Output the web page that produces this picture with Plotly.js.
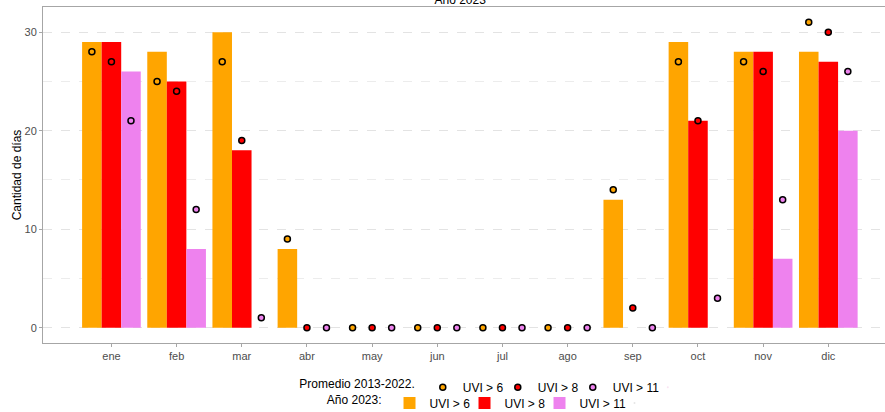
<!DOCTYPE html>
<html>
<head>
<meta charset="utf-8">
<script src="https://cdn.plot.ly/plotly-3.0.1.min.js"></script>
<style>html,body{margin:0;padding:0;background:#fff;}#chart{width:885px;height:412px;}</style>
</head>
<body>
<div id="chart"></div>
<script>
const months = ["ene","feb","mar","abr","may","jun","jul","ago","sep","oct","nov","dic"];
// Año 2023 (bars)
const bar_uvi6  = [29,28,30,8,0,0,0,0,13,29,28,28];
const bar_uvi8  = [29,25,18,0,0,0,0,0,0,21,28,27];
const bar_uvi11 = [26,8,0,0,0,0,0,0,0,0,7,20];
// Promedio 2013-2022 (points)
const avg_uvi6  = [28,25,27,9,0,0,0,0,14,27,27,31];
const avg_uvi8  = [27,24,19,0,0,0,0,0,2,21,26,30];
const avg_uvi11 = [21,12,1,0,0,0,0,0,0,3,13,26];

const colors = ["#FFA500","#FF0000","#EE82EE"];
const labels = ["UVI > 6","UVI > 8","UVI > 11"];
const barSeries = [bar_uvi6, bar_uvi8, bar_uvi11];
const avgSeries = [avg_uvi6, avg_uvi8, avg_uvi11];
const idx = months.map((m,i)=>i);
const dodge = [-0.3, 0, 0.3];

const traces = [];
barSeries.forEach((s,k)=>{
  traces.push({
    type:'bar', x:idx, y:s, name:labels[k], legend:'legend2',
    marker:{color:colors[k], line:{width:0}}, hoverinfo:'y'
  });
});
avgSeries.forEach((s,k)=>{
  traces.push({
    type:'scatter', mode:'markers', x:idx.map(i=>i+dodge[k]), y:s, name:labels[k], legend:'legend',
    marker:{color:colors[k], size:6, line:{color:'#000', width:1.5}}, cliponaxis:false
  });
});
// empty spacer entries so the last legend label is not clipped
['legend','legend2'].forEach(lg=>{
  traces.push({type:'scatter', mode:'markers', x:[null], y:[null], name:' ', legend:lg,
    marker:{opacity:0, size:1}, showlegend:true, hoverinfo:'skip'});
});

const layout = {
  width:885, height:412,
  margin:{l:43, r:0, t:7, b:69},
  paper_bgcolor:'#fff', plot_bgcolor:'#fff',
  font:{family:'Liberation Sans, Arial, sans-serif', color:'#000'},
  title:{text:'Año 2023', font:{size:12, color:'#000'}, x:0.52, xanchor:'center', y:1, yref:'container', yanchor:'middle'},
  barmode:'group', bargap:0.1, bargroupgap:0,
  xaxis:{
    range:[-1.05, 11.87], tickvals:idx, ticktext:months,
    showgrid:false, zeroline:false,
    showline:true, linecolor:'#a6a6a6', linewidth:1, mirror:true,
    ticks:'outside', ticklen:3, tickcolor:'#a6a6a6',
    tickfont:{size:11, color:'#4d4d4d'}
  },
  yaxis:{
    range:[-1.55, 32.55], tickvals:[0,10,20,30],
    showgrid:true, gridcolor:'#e3e3e3', griddash:'dash', gridwidth:1,
    minor:{tickvals:[5,15,25], showgrid:true, gridcolor:'#ececec', griddash:'dash', gridwidth:1},
    zeroline:false,
    showline:true, linecolor:'#a6a6a6', linewidth:1, mirror:true,
    ticks:'outside', ticklen:3, tickcolor:'#a6a6a6',
    tickfont:{size:11, color:'#4d4d4d'},
    automargin:false,
    title:{text:'Cantidad de días', font:{size:12, color:'#000'}, standoff:0}
  },
  legend:{
    orientation:'h', xref:'container', yref:'container', x:0.336, xanchor:'left', y:0.06, yanchor:'middle',
    title:{text:'Promedio 2013-2022.', side:'left', font:{size:12}}, font:{size:12},
    bgcolor:'rgba(0,0,0,0)', itemwidth:30, tracegroupgap:0, entrywidth:30, entrywidthmode:'pixels'
  },
  legend2:{
    orientation:'h', xref:'container', yref:'container', x:0.367, xanchor:'left', y:0.022, yanchor:'middle',
    title:{text:'Año 2023:', side:'left', font:{size:12}}, font:{size:12},
    bgcolor:'rgba(0,0,0,0)', itemwidth:30, tracegroupgap:0, entrywidth:30, entrywidthmode:'pixels'
  },
  showlegend:true
};

Plotly.newPlot('chart', traces, layout, {displayModeBar:false, staticPlot:true});
</script>
</body>
</html>
